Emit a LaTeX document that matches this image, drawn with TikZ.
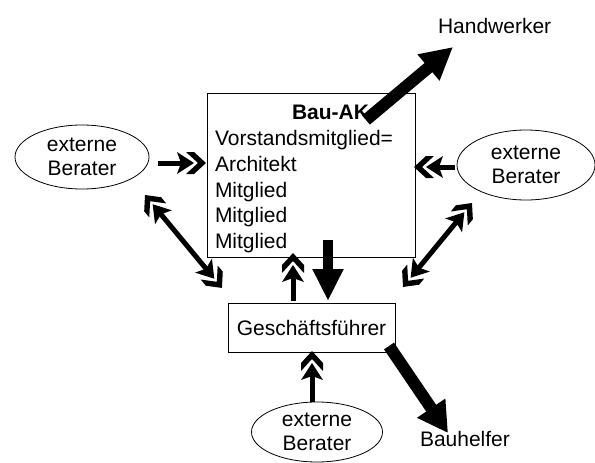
\documentclass[tikz,border=0pt]{standalone}
\usepackage{fontspec}
\setmainfont{Liberation Sans}
\usetikzlibrary{arrows.meta,shapes.geometric,decorations.markings}
\newcommand\chvpair{%
  \fill (0,0) -- (-12,-11) -- (-20,-11) -- (-8,0) -- (-20,11) -- (-12,11) -- cycle;
  \fill (-12,0) -- (-29,-11) -- (-25,0) -- (-29,11) -- cycle;}
\begin{document}
\begin{tikzpicture}[x=1pt,y=-1pt,
  every node/.style={font=\fontsize{21}{24}\selectfont, inner sep=0pt, outer sep=0pt},
  box/.style={draw, line width=0.8pt, rectangle},
  oval/.style={draw, line width=0.8pt, ellipse, align=center},
  lbl/.style={anchor=base west},
  shaft/.style={line width=5pt, shorten >=24pt},
  shafttwo/.style={line width=5pt, shorten >=24pt, shorten <=24pt},
  hd/.style={decorate, decoration={markings, mark=at position 0.9999 with {\chvpair}}},
  hdtwo/.style={decorate, decoration={markings,
      mark=at position 0.0001 with {\begin{scope}[rotate=180]\chvpair\end{scope}},
      mark=at position 0.9999 with {\chvpair}}},
  fat/.style={line width=12pt, -{Triangle[length=32pt,width=32pt]}}
]
\useasboundingbox (0,0) rectangle (595,463);
\fill[white] (0,0) rectangle (595,463);

% Bau-AK box and its text
\node[box, minimum width=208pt, minimum height=164pt] (bauak) at (311,175) {};
\node[lbl, font=\fontsize{21}{24}\selectfont\bfseries] (title) at (292,119) {Bau-AK};
\node[lbl] (l1) at (215,145) {Vorstandsmitglied=};
\node[lbl] (l2) at (215,171) {Architekt};
\node[lbl] (l3) at (215,197) {Mitglied};
\node[lbl] (l4) at (215,222) {Mitglied};
\node[lbl] (l5) at (215,248) {Mitglied};

% Geschaeftsfuehrer
\node[box, minimum width=167pt, minimum height=49pt] (gf) at (311.5,327.5) {Geschäftsführer};

% external advisers
\node[oval, minimum width=134pt, minimum height=64pt] (el) at (82,157) {externe\\Berater};
\node[oval, minimum width=138pt, minimum height=70pt] (er) at (526,165) {externe\\Berater};
\node[oval, minimum width=131pt, minimum height=60pt] (eb) at (317,432) {externe\\Berater};

% labels
\node[lbl] (hw) at (438,33) {Handwerker};
\node[lbl] (bh) at (420,446) {Bauhelfer};

% connector end points
\coordinate (a1s) at (158,163); \coordinate (a1e) at (206,163);
\coordinate (a2s) at (455,167); \coordinate (a2e) at (414,167);
\coordinate (a3s) at (145,195); \coordinate (a3e) at (222,288);
\coordinate (a4s) at (403,287); \coordinate (a4e) at (472,203);
\coordinate (a5s) at (293,301); \coordinate (a5e) at (293,253);
\coordinate (a6s) at (312,402); \coordinate (a6e) at (312,351);
\coordinate (a7s) at (328,240); \coordinate (a7e) at (328,301);
\coordinate (a8s) at (366,120); \coordinate (a8e) at (453,47);
\coordinate (a9s) at (389,346); \coordinate (a9e) at (448,433);

% double-chevron connectors
\draw[shaft] (a1s) -- (a1e);  \path[hd] (a1s) -- (a1e);
\draw[shaft] (a2s) -- (a2e);  \path[hd] (a2s) -- (a2e);
\draw[shafttwo] (a3s) -- (a3e);  \path[hdtwo] (a3s) -- (a3e);
\draw[shafttwo] (a4s) -- (a4e);  \path[hdtwo] (a4s) -- (a4e);
\draw[shaft] (a5s) -- (a5e);  \path[hd] (a5s) -- (a5e);
\draw[shaft] (a6s) -- (a6e);  \path[hd] (a6s) -- (a6e);

% thick arrows
\draw[fat, line width=10pt, -{Triangle[length=32pt,width=29pt]}] (a7s) -- (a7e);
\draw[fat] (a8s) -- (a8e);
\draw[fat, -{Triangle[length=30pt,width=32pt]}] (a9s) -- (a9e);
\end{tikzpicture}
\end{document}
